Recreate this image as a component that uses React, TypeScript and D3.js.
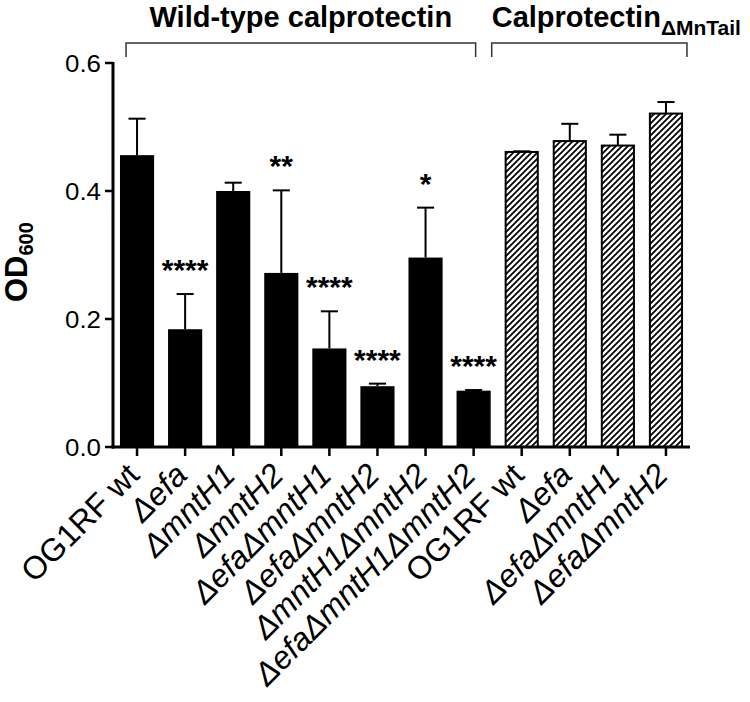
import * as d3 from "d3";

const WIDTH = 750;
const HEIGHT = 702;

const FONT = "'Liberation Sans', Arial, Helvetica, sans-serif";

// strain labels, left to right
const strains = [
  "OG1RF wt",
  "Δefa",
  "ΔmntH1",
  "ΔmntH2",
  "ΔefaΔmntH1",
  "ΔefaΔmntH2",
  "ΔmntH1ΔmntH2",
  "ΔefaΔmntH1ΔmntH2",
  "OG1RF wt",
  "Δefa",
  "ΔefaΔmntH1",
  "ΔefaΔmntH2",
];
// which calprotectin each bar was grown with
const protein = ["wt", "wt", "wt", "wt", "wt", "wt", "wt", "wt", "tail", "tail", "tail", "tail"];
// mean OD600 and upper error (SD)
const od600 = [0.456, 0.184, 0.4, 0.272, 0.154, 0.095, 0.296, 0.088, 0.461, 0.478, 0.471, 0.521];
const odErr = [0.057, 0.055, 0.013, 0.129, 0.058, 0.004, 0.078, 0.001, 0.001, 0.027, 0.017, 0.018];
const stars = ["", "****", "", "**", "****", "****", "*", "****", "", "", "", ""];

const yTicks = [0, 0.2, 0.4, 0.6];

// plot frame
const X0 = 113;
const X1 = 690;
const Y0 = 447;
const YTOP = 63;

export default function App() {
  const ids = strains.map((_, i) => String(i));
  const x = d3.scaleBand<string>().domain(ids).range([X0, X1]).paddingInner(0.29).paddingOuter(0.145);
  const y = d3.scaleLinear().domain([0, 0.6]).range([Y0, YTOP]);
  const bw = x.bandwidth();
  const cx = (i: number) => (x(String(i)) as number) + bw / 2;

  // bracket spans over the two groups
  const wtIdx = protein.map((p, i) => (p === "wt" ? i : -1)).filter((i) => i >= 0);
  const tailIdx = protein.map((p, i) => (p === "tail" ? i : -1)).filter((i) => i >= 0);
  const b1 = [cx(wtIdx[0]) - 11, cx(wtIdx[wtIdx.length - 1]) + 2];
  const b2 = [cx(tailIdx[0]) - 30, cx(tailIdx[tailIdx.length - 1]) + 21];

  return (
    <>
      <style>{"body{margin:0}"}</style>
      <svg width={WIDTH} height={HEIGHT} style={{ display: "block", background: "#fff" }} fontFamily={FONT}>
        <defs>
          <pattern id="hatch" patternUnits="userSpaceOnUse" width={6} height={6}>
            <rect width={6} height={6} fill="#fff" />
            <path d="M-1,1 l2,-2 M0,6 l6,-6 M5,7 l2,-2" stroke="#000" strokeWidth={1.8} />
          </pattern>
        </defs>

        {/* group titles + brackets */}
        <text x={(b1[0] + b1[1]) / 2} y={27} textAnchor="middle" fontSize={29} fontWeight="bold">
          Wild-type calprotectin
        </text>
        <text x={b2[0]} y={27} fontSize={29} fontWeight="bold">
          Calprotectin
          <tspan fontSize={21} dy={8}>ΔMnTail</tspan>
        </text>
        {[b1, b2].map((b, i) => (
          <path
            key={i}
            d={`M${b[0]},${57} V${43} H${b[1]} V${57}`}
            fill="none"
            stroke="#333"
            strokeWidth={1.5}
          />
        ))}

        {/* bars */}
        {od600.map((v, i) => {
          const top = y(v);
          const errTop = y(v + odErr[i]);
          const left = x(String(i)) as number;
          const tail = protein[i] === "tail";
          return (
            <g key={i}>
              <line x1={cx(i)} x2={cx(i)} y1={top} y2={errTop} stroke="#000" strokeWidth={2} />
              <line x1={cx(i) - bw / 4} x2={cx(i) + bw / 4} y1={errTop} y2={errTop} stroke="#000" strokeWidth={2} />
              <rect
                x={tail ? left + 1 : left}
                y={top}
                width={tail ? bw - 2 : bw}
                height={Y0 - top}
                fill={tail ? "url(#hatch)" : "#000"}
                stroke={tail ? "#000" : "none"}
                strokeWidth={2}
              />
              {stars[i] && (
                <text x={cx(i)} y={errTop - 14} textAnchor="middle" fontSize={30} fontWeight="bold">
                  {stars[i]}
                </text>
              )}
            </g>
          );
        })}

        {/* y axis */}
        <line x1={X0} x2={X0} y1={YTOP - 1} y2={Y0 + 1.5} stroke="#000" strokeWidth={3} />
        {yTicks.map((t) => (
          <g key={t}>
            <line x1={X0 - 8} x2={X0} y1={y(t)} y2={y(t)} stroke="#000" strokeWidth={2.5} />
            <text x={101} y={y(t)} dy="0.36em" textAnchor="end" fontSize={24} textLength={36} lengthAdjust="spacingAndGlyphs">
              {t.toFixed(1)}
            </text>
          </g>
        ))}
        <text transform={`translate(27,302) rotate(-90)`} fontSize={31} fontWeight="bold">
          OD
          <tspan fontSize={20} dy={6}>600</tspan>
        </text>

        {/* x axis */}
        <line x1={X0 - 1.5} x2={X1} y1={Y0} y2={Y0} stroke="#000" strokeWidth={3} />
        {strains.map((s, i) => (
          <g key={i}>
            <line x1={cx(i)} x2={cx(i)} y1={Y0} y2={Y0 + 9} stroke="#000" strokeWidth={2.5} />
            <text
              transform={`translate(${cx(i) + 4},${477}) rotate(-45)`}
              textAnchor="end"
              fontSize={32}
              fontStyle={s.startsWith("Δ") ? "italic" : "normal"}
            >
              {s}
            </text>
          </g>
        ))}
      </svg>
    </>
  );
}
